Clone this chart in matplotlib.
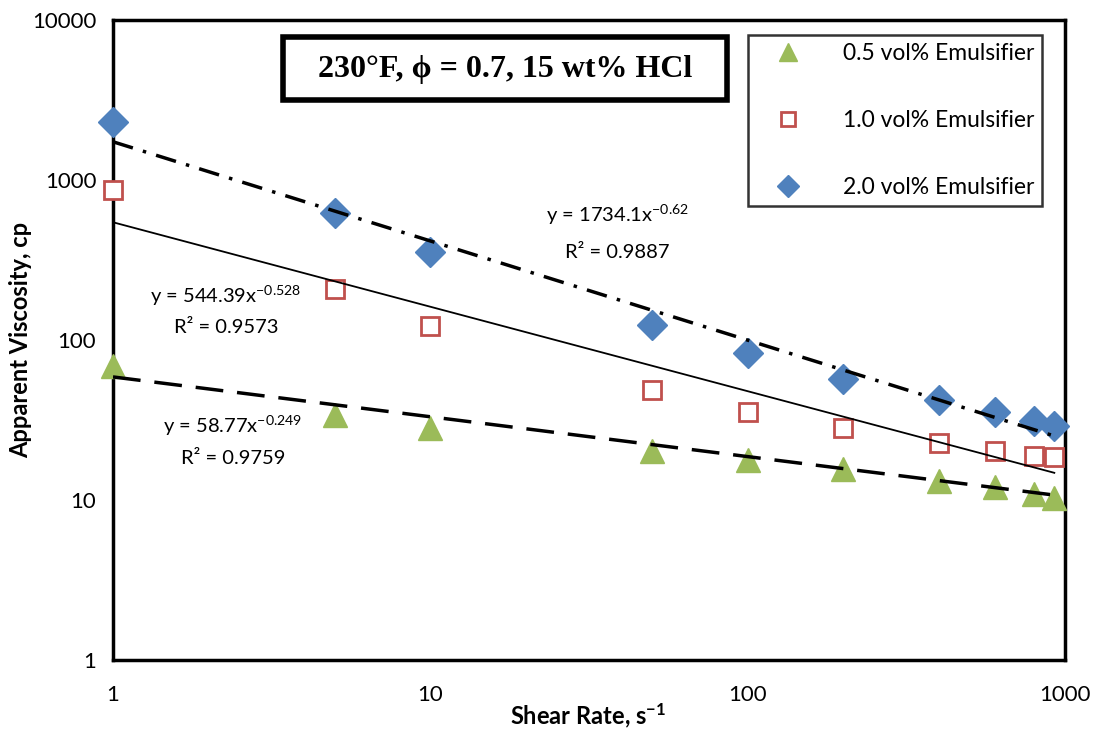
import numpy as np
import matplotlib
matplotlib.use("Agg")
import matplotlib.pyplot as plt
from matplotlib.patches import Rectangle

plt.rcParams['font.family'] = ['Lato', 'DejaVu Sans']
plt.rcParams['mathtext.fontset'] = 'custom'
plt.rcParams['mathtext.rm'] = 'Lato'
plt.rcParams['mathtext.it'] = 'Lato:italic'
plt.rcParams['mathtext.bf'] = 'Lato:bold'
plt.rcParams['mathtext.default'] = 'regular'

# shear rates, s^-1
shear_rate = [1, 5, 10, 50, 100, 200, 400, 600, 800, 925]

# apparent viscosity, cp
visc_05 = [69, 34, 28, 20.3, 17.8, 15.6, 13.2, 12.1, 10.9, 10.3]
visc_10 = [865, 208, 122, 48.7, 35.5, 28, 22.7, 20.2, 18.8, 18.6]
visc_20 = [2300, 620, 355, 124, 83, 57, 42, 35.5, 31, 29]

# power-law fits y = a * x^b
fit_05 = (58.77, -0.249, 0.9759)
fit_10 = (544.39, -0.528, 0.9573)
fit_20 = (1734.1, -0.62, 0.9887)

labels = ["0.5 vol% Emulsifier", "1.0 vol% Emulsifier", "2.0 vol% Emulsifier"]

W, H = 1098, 736


def fx(px):
    return px / W


def fy(py):
    return 1 - py / H


fig = plt.figure(figsize=(10.98, 7.36), dpi=100)
ax = fig.add_axes([0.1029, 0.1033, 0.8671, 0.8695])
ax.set_xscale('log')
ax.set_yscale('log')
ax.set_xlim(1, 1000)
ax.set_ylim(1, 10000)

ax.plot(shear_rate, visc_05, linestyle='none', marker='^', markersize=17,
        color='#9BBB59', label=labels[0], clip_on=False, zorder=3)
ax.plot(shear_rate, visc_10, linestyle='none', marker='s', markersize=13,
        markerfacecolor='white', markeredgecolor='#C0504D', markeredgewidth=2,
        label=labels[1], clip_on=False, zorder=3)
ax.plot(shear_rate, visc_20, linestyle='none', marker='D', markersize=15,
        color='#4F81BD', label=labels[2], clip_on=False, zorder=3)

xf = np.logspace(0, np.log10(shear_rate[-1]), 100)
ax.plot(xf, fit_05[0] * xf ** fit_05[1], color='black', lw=2.5,
        dashes=(8, 4), zorder=4)
ax.plot(xf, fit_10[0] * xf ** fit_10[1], color='black', lw=1.3, zorder=4)
ax.plot(xf, fit_20[0] * xf ** fit_20[1], color='black', lw=2.5,
        dashes=(6, 3, 1, 3), zorder=4)

eq_kw = dict(fontsize=14.5, ha='center', va='center', transform=fig.transFigure)
ax.text(fx(617), fy(215), "y = %.1fx$^{%s}$" % (fit_20[0], fit_20[1]), **eq_kw)
ax.text(fx(617), fy(252), "R² = %.4f" % fit_20[2], **eq_kw)
ax.text(fx(226), fy(296), "y = %.2fx$^{%s}$" % (fit_10[0], fit_10[1]), **eq_kw)
ax.text(fx(226), fy(327), "R² = %.4f" % fit_10[2], **eq_kw)
ax.text(fx(233), fy(426), "y = %.2fx$^{%s}$" % (fit_05[0], fit_05[1]), **eq_kw)
ax.text(fx(233), fy(458), "R² = %.4f" % fit_05[2], **eq_kw)

ax.set_xticks([1, 10, 100, 1000])
ax.set_xticklabels(['1', '10', '100', '1000'])
ax.set_yticks([1, 10, 100, 1000, 10000])
ax.set_yticklabels(['1', '10', '100', '1000', '10000'])
ax.minorticks_off()
ax.tick_params(length=0, labelsize=16, pad=12)
ax.tick_params(axis='x', pad=18)

for sp in ax.spines.values():
    sp.set_linewidth(2.5)

ax.set_xlabel("Shear Rate, s$^{-1}$", fontsize=17, fontweight='bold')
ax.xaxis.set_label_coords(0.499, -0.064)
ax.set_ylabel("Apparent Viscosity, cp", fontsize=17, fontweight='bold')
ax.yaxis.set_label_coords(-0.085, 0.5)

leg = ax.legend(loc='upper right', bbox_to_anchor=(0.976, 0.976), fontsize=16.5,
                frameon=True, fancybox=False, edgecolor='black',
                labelspacing=2.0, handletextpad=1.0, borderpad=0.35,
                borderaxespad=0, markerscale=0.75, handlelength=2.8)
leg.get_frame().set_linewidth(1.8)

# title box
fig.patches.append(Rectangle((fx(283), fy(100)), fx(727) - fx(283), fy(37) - fy(100),
                             transform=fig.transFigure, facecolor='white',
                             edgecolor='black', linewidth=4, zorder=5))
fig.text(fx(505), fy(69), "230°F, ϕ = 0.7, 15 wt% HCl", ha='center', va='center',
         fontsize=23, fontweight='bold', family=['Liberation Serif', 'DejaVu Serif'],
         zorder=6)

fig.savefig("out.png", dpi=100)
